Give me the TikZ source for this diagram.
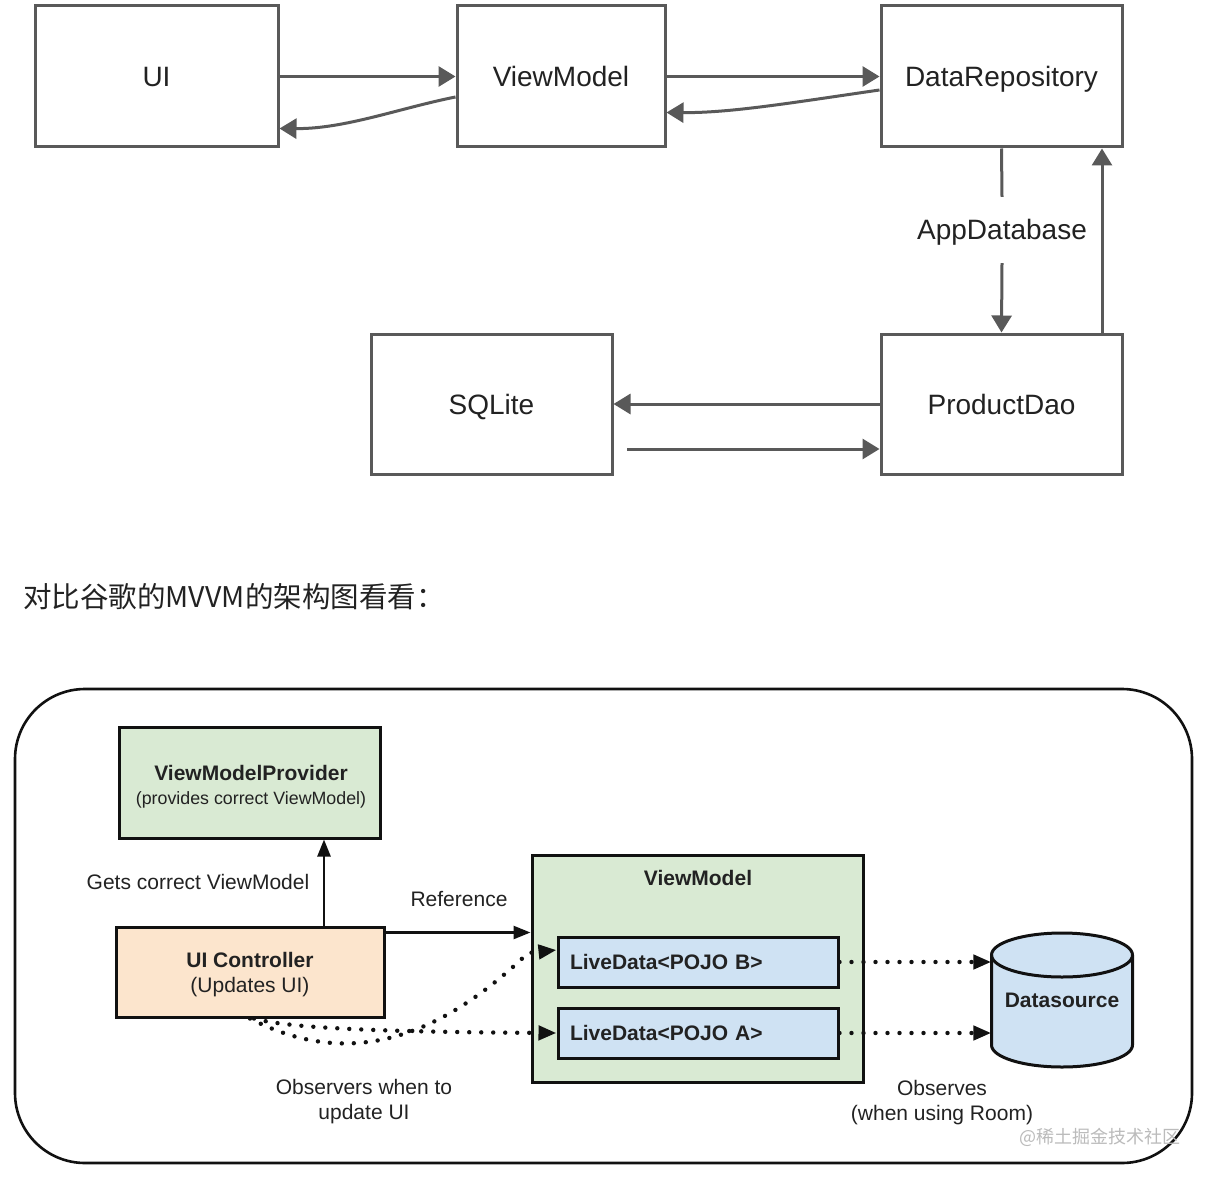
\documentclass[tikz,border=0pt]{standalone}
\usepackage{fontspec}
\setmainfont{Liberation Sans}
\newfontfamily\cjk{Noto Sans CJK SC}
\usetikzlibrary{arrows.meta,calc}
\definecolor{tgray}{HTML}{595959}
\definecolor{ttext}{HTML}{222222}
\definecolor{bline}{HTML}{111111}
\definecolor{vmgreen}{HTML}{D9EAD3}
\definecolor{uiorange}{HTML}{FCE5CD}
\definecolor{ldblue}{HTML}{CFE2F3}
\definecolor{wmark}{HTML}{BBBBBB}
\begin{document}
\begin{tikzpicture}[x=1pt,y=-1pt,
  topbox/.style={draw=tgray,line width=3pt,minimum width=#1,minimum height=141pt,inner sep=0pt,
    text=ttext,font=\fontsize{28}{33}\selectfont,text height=20pt,text depth=0pt},
  tarrow/.style={draw=tgray,line width=3pt,-{Triangle[length=17pt,width=20pt]}},
  tline/.style={draw=tgray,line width=3pt},
  botbox/.style={draw=bline,line width=3pt,inner sep=0pt,text=ttext,align=center,
    font=\fontsize{21}{25}\selectfont},
  barrow/.style={draw=bline,line width=2.5pt,-{Triangle[length=17pt,width=13pt]}},
  dotarrow/.style={draw=bline,line width=4.4pt,line cap=round,dash pattern=on 0pt off 12pt,
    -{Triangle[length=18pt,width=14pt]}},
  btext/.style={text=ttext,align=center,font=\fontsize{21}{25}\selectfont,inner sep=0pt},
]
\useasboundingbox (0,0) rectangle (1210,1177);
\fill[white] (0,0) rectangle (1210,1177);

% ---------- top diagram ----------
\node[topbox=243pt] (ui) at (156.5,76.5) {UI};
\node[topbox=208pt] (vm) at (561,76.5) {ViewModel};
\node[topbox=241pt] (dr) at (1001.5,76.5) {DataRepository};
\node[topbox=241pt,minimum height=140pt] (sq) at (491.5,404) {SQLite};
\node[topbox=241pt,minimum height=140pt] (pd) at (1001.5,404) {ProductDao};
\node[text=ttext,font=\fontsize{28}{33}\selectfont,inner sep=0pt,minimum height=66pt,
  text height=20pt,text depth=0pt] (appdb) at (1002,230) {AppDatabase};

\draw[tarrow] (ui.east) -- (vm.west);
\draw[tarrow] ($(vm.west)+(0,20.5)$) .. controls (400,108) and (345,129) .. ($(ui.east)+(0,52)$);
\draw[tarrow] (vm.east) -- (dr.west);
\draw[tarrow] ($(dr.west)+(0,13.5)$) .. controls (790,103) and (730,113) .. ($(vm.east)+(0,36)$);
\draw[tline] (dr.south) -- (appdb.north);
\draw[tarrow] (appdb.south) -- (pd.north);
\draw[tarrow] ($(pd.north)+(100.5,0)$) -- ($(dr.south)+(100.5,0)$);
\draw[tarrow] (pd.west) -- (sq.east);
\coordinate (sqout) at (627,449);
\draw[tarrow] (sqout) -- (sqout -| pd.west);

% ---------- caption ----------
\node[anchor=west,inner sep=0pt,text=ttext,font=\cjk\fontsize{28.5}{33}\selectfont] (cap) at (23,597) {对比谷歌的MVVM的架构图看看：};

% ---------- bottom diagram ----------
\draw[bline,line width=2.6pt,rounded corners=70pt] (15,689) rectangle (1192,1163);

\node[botbox,fill=vmgreen,minimum width=261pt,minimum height=111pt] (vmp) at (249.5,782.5) {};
\node[btext] (vmpt) at (251,786.5)
  {{\bfseries ViewModelProvider}\\[-1pt]{\fontsize{17.8}{24}\selectfont (provides correct ViewModel)}};
\node[botbox,fill=uiorange,minimum width=268pt,minimum height=90pt] (uic) at (250,972) {};
\node[btext] (uict) at (250,974.5) {{\bfseries UI Controller}\\(Updates UI)};
\node[botbox,fill=vmgreen,minimum width=331pt,minimum height=227pt] (vmb) at (697.5,968.5) {};
\node[btext,font=\bfseries\fontsize{21}{25}\selectfont] (vmt) at (698,878) {ViewModel};
\node[botbox,fill=ldblue,minimum width=280pt,minimum height=50pt,text width=256pt,align=left] (lvb) at (698,962)
  {\bfseries\fontsize{21}{25}\selectfont LiveData<POJO B>};
\node[botbox,fill=ldblue,minimum width=280pt,minimum height=50pt,text width=256pt,align=left] (lva) at (698,1033)
  {\bfseries\fontsize{21}{25}\selectfont LiveData<POJO A>};

% cylinder
\fill[ldblue] (991.5,955) -- (991.5,1045) arc (180:0:70.5 and 22) -- (1132.5,955) arc (0:-180:70.5 and 22) -- cycle;
\draw[bline,line width=3pt] (991.5,955) -- (991.5,1045) arc (180:0:70.5 and 22) -- (1132.5,955) arc (0:-180:70.5 and 22) -- cycle;
\draw[bline,line width=3pt] (991.5,955) arc (180:0:70.5 and 22);
\node[btext,font=\bfseries\fontsize{21}{25}\selectfont,minimum width=141pt,minimum height=135pt] (ds) at (1062,1000) {Datasource};

% labels
\node[btext] (gets) at (198,882) {Gets correct ViewModel};
\node[btext] (ref) at (459,899) {Reference};
\node[btext] (obs) at (364,1101.5) {Observers when to\\update UI};
\node[btext] (obsr) at (942,1102.5) {Observes\\(when using Room)};
\node[anchor=east,inner sep=0pt,text=wmark,font=\cjk\fontsize{18}{22}\selectfont] (wm) at (1181,1137) {@稀土掘金技术社区};

% connectors
\coordinate (upx) at (324,0);
\draw[barrow] (uic.north -| upx) -- (vmp.south -| upx);
\coordinate (refs) at ($(uic.north east)+(0,7)$);
\draw[barrow] (refs) -- (refs -| vmb.west);
\draw[dotarrow] (uic.south) .. controls (330,1060) and (420,1057) .. (528,953) -- ($(lvb.west)+(0,-12)$);
\draw[dotarrow] ($(uic.south)+(4,0)$) .. controls (290,1029) and (400,1032) .. (lva.west);
\draw[dotarrow] (lvb.east) -- (lvb.east -| ds.west);
\draw[dotarrow] (lva.east) -- (lva.east -| ds.west);
\end{tikzpicture}
\end{document}
